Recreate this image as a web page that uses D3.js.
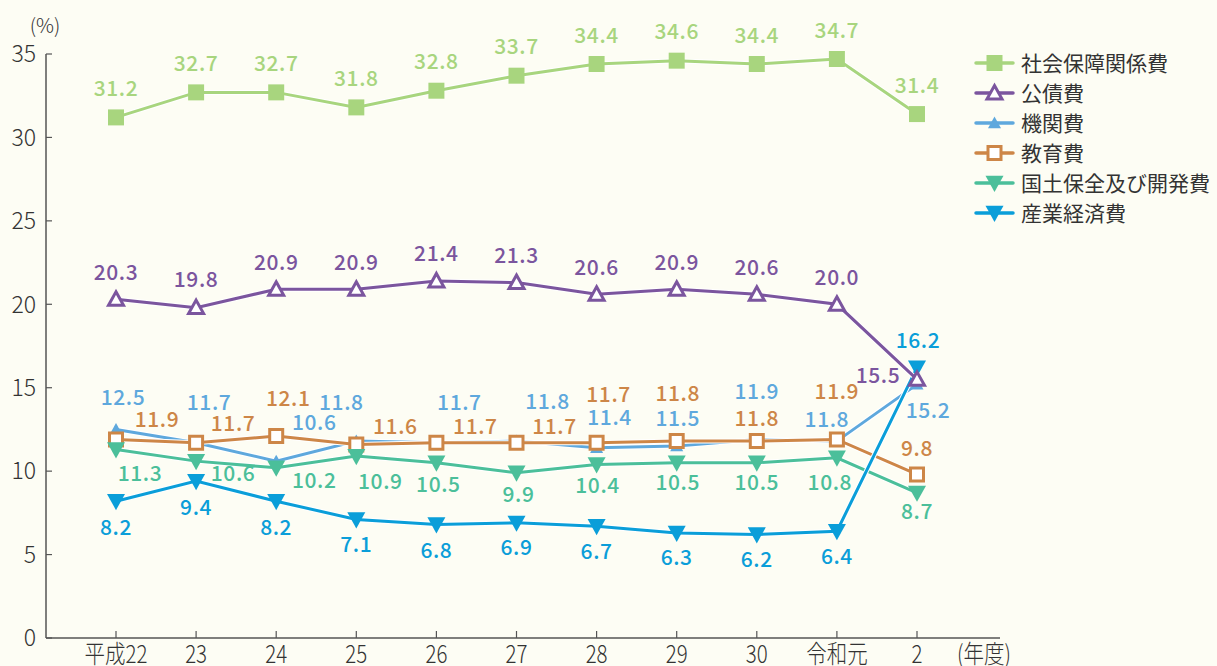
<!DOCTYPE html>
<html>
<head>
<meta charset="utf-8">
<script src="https://cdn.jsdelivr.net/npm/d3@7"></script>
<style>
  html, body { margin: 0; padding: 0; background: #fdfdf4; }
  svg { display: block; }
  text { font-family: "Noto Sans CJK JP", "Noto Sans", sans-serif; }
</style>
</head>
<body>
<svg id="chart" width="1217" height="666"></svg>
<script>
// DATA -----------------------------------------------------------------------------------------
var years = ["平成22", "23", "24", "25", "26", "27", "28", "29", "30", "令和元", "2"];
var yTicks = [0, 5, 10, 15, 20, 25, 30, 35];

var shakai  = [31.2, 32.7, 32.7, 31.8, 32.8, 33.7, 34.4, 34.6, 34.4, 34.7, 31.4]; // 社会保障関係費
var kousai  = [20.3, 19.8, 20.9, 20.9, 21.4, 21.3, 20.6, 20.9, 20.6, 20.0, 15.5]; // 公債費
var kikan   = [12.5, 11.7, 10.6, 11.8, 11.7, 11.8, 11.4, 11.5, 11.9, 11.8, 15.2]; // 機関費
var kyouiku = [11.9, 11.7, 12.1, 11.6, 11.7, 11.7, 11.7, 11.8, 11.8, 11.9, 9.8];  // 教育費
var kokudo  = [11.3, 10.6, 10.2, 10.9, 10.5, 9.9, 10.4, 10.5, 10.5, 10.8, 8.7];   // 国土保全及び開発費
var sangyou = [8.2, 9.4, 8.2, 7.1, 6.8, 6.9, 6.7, 6.3, 6.2, 6.4, 16.2];           // 産業経済費

// label placement (dx, dy from the point) -----------------------------------------------------
var shakaiLbl  = years.map(function() { return [0, -29]; });
var kousaiLbl  = [[0,-27],[0,-28],[0,-27],[0,-27],[0,-27],[0,-27],[0,-27],[0,-27],[0,-27],[0,-27],[-39,-4]];
var kikanLbl   = [[7,-32],[13,-40],[38,-39],[-15,-39],[23,-40],[31,-40],[13,-30],[1,-28],[0,-48],[-10,-22],[11,26]];
var kyouikuLbl = [[41,-20],[37,-19],[12,-38],[39,-18],[39,-16],[38,-16],[12,-48],[1,-48],[0,-23],[0,-48],[0,-26]];
var kokudoLbl  = [[24,24],[37,12],[38,13],[24,25],[2,22],[2,22],[1,21],[1,20],[0,20],[-7,25],[0,19]];
var sangyouLbl = [[0,26],[0,26],[0,26],[0,25],[0,26],[0,25],[0,25],[0,25],[0,25],[0,25],[1,-27]];

// SETUP ----------------------------------------------------------------------------------------
var svg = d3.select("#chart");

var x = d3.scalePoint().domain(years).range([116, 917]);
var y = d3.scaleLinear().domain([0, 35]).range([638, 54]);

// series, in drawing order (bottom to top)
var series = [
  { name: "機関費",           values: kikan,   lbl: kikanLbl,   color: "#5ea8dd", shape: "triUp",   open: false, size: 13 },
  { name: "教育費",           values: kyouiku, lbl: kyouikuLbl, color: "#cd8647", shape: "square",  open: true,  size: 16 },
  { name: "国土保全及び開発費", values: kokudo,  lbl: kokudoLbl,  color: "#4bbf9a", shape: "triDown", open: false, size: 18 },
  { name: "産業経済費",        values: sangyou, lbl: sangyouLbl, color: "#0a9ed9", shape: "triDown", open: false, size: 18 },
  { name: "公債費",           values: kousai,  lbl: kousaiLbl,  color: "#7b559e", shape: "triUp",   open: true,  size: 18 },
  { name: "社会保障関係費",     values: shakai,  lbl: shakaiLbl,  color: "#a8d57e", shape: "square",  open: false, size: 16 }
];
var legendOrder = ["社会保障関係費", "公債費", "機関費", "教育費", "国土保全及び開発費", "産業経済費"];

// marker path centred on 0,0
function markerPath(shape, s) {
  var h = s / 2;
  if (shape == "square") return "M" + (-h) + "," + (-h) + "H" + h + "V" + h + "H" + (-h) + "Z";
  if (shape == "triUp") return "M0," + (-h) + "L" + h + "," + (h * 0.8) + "L" + (-h) + "," + (h * 0.8) + "Z";
  return "M0," + h + "L" + h + "," + (-h * 0.8) + "L" + (-h) + "," + (-h * 0.8) + "Z";
}

function drawMarker(g, s, px, py) {
  var inset = s.open ? 3 : 0;
  g.append("path")
    .attr("transform", "translate(" + px + "," + py + ")")
    .attr("d", markerPath(s.shape, s.size - inset))
    .attr("fill", s.open ? "#fff" : s.color)
    .attr("stroke", s.color)
    .attr("stroke-width", s.open ? 3 : 0)
    .attr("stroke-linejoin", "miter");
}

// AXES -----------------------------------------------------------------------------------------
var axisColor = "#555";

svg.append("line")
  .attr("x1", 46).attr("x2", 46)
  .attr("y1", y(35)).attr("y2", y(0))
  .attr("stroke", axisColor).attr("stroke-width", 1.5);

svg.append("line")
  .attr("x1", 46).attr("x2", 1000)
  .attr("y1", y(0)).attr("y2", y(0))
  .attr("stroke", axisColor).attr("stroke-width", 1.5);

var yAxis = svg.append("g");
yTicks.forEach(function(t) {
  yAxis.append("line")
    .attr("x1", 46).attr("x2", 52)
    .attr("y1", y(t)).attr("y2", y(t))
    .attr("stroke", axisColor).attr("stroke-width", 1.2);
  yAxis.append("text")
    .attr("x", 36).attr("y", y(t))
    .attr("dy", "0.36em")
    .attr("text-anchor", "end")
    .attr("font-size", 23)
    .attr("font-weight", 300)
    .attr("fill", "#333")
    .text(t);
});

svg.append("text")
  .attr("x", 45).attr("y", 26)
  .attr("dy", "0.35em")
  .attr("text-anchor", "middle")
  .attr("font-size", 20)
  .attr("font-weight", 300)
  .attr("fill", "#333")
  .text("(%)");

// x labels: slightly condensed, as in the reference
function xLabel(g, cx, txt) {
  g.append("text")
    .attr("transform", "translate(" + cx + ",663) scale(0.82,1)")
    .attr("text-anchor", "middle")
    .attr("font-size", 25)
    .attr("font-weight", 300)
    .attr("fill", "#333")
    .text(txt);
}

var xAxis = svg.append("g");
years.forEach(function(yr) {
  xAxis.append("line")
    .attr("x1", x(yr)).attr("x2", x(yr))
    .attr("y1", y(0)).attr("y2", y(0) - 7)
    .attr("stroke", axisColor).attr("stroke-width", 1.2);
  xLabel(xAxis, x(yr), yr);
});
xLabel(xAxis, 984, "(年度)");

// LINES & MARKERS ------------------------------------------------------------------------------
var line = d3.line()
  .x(function(d, i) { return x(years[i]); })
  .y(function(d) { return y(d); });

series.forEach(function(s) {
  var g = svg.append("g");
  g.append("path")
    .attr("d", line(s.values))
    .attr("fill", "none")
    .attr("stroke", "#fff")
    .attr("stroke-width", 5);
  g.append("path")
    .attr("d", line(s.values))
    .attr("fill", "none")
    .attr("stroke", s.color)
    .attr("stroke-width", 3);
  s.values.forEach(function(v, i) {
    drawMarker(g, s, x(years[i]), y(v));
  });
});

// DATA LABELS ----------------------------------------------------------------------------------
series.forEach(function(s) {
  s.values.forEach(function(v, i) {
    svg.append("text")
      .attr("x", x(years[i]) + s.lbl[i][0])
      .attr("y", y(v) + s.lbl[i][1])
      .attr("dy", "0.36em")
      .attr("text-anchor", "middle")
      .attr("font-size", 21)
      .attr("font-weight", 500)
      .attr("letter-spacing", 0.6)
      .attr("fill", s.color)
      .text(v.toFixed(1));
  });
});

// LEGEND ---------------------------------------------------------------------------------------
var legend = svg.append("g");
legendOrder.forEach(function(name, i) {
  var s = series.filter(function(d) { return d.name == name; })[0];
  var ly = 63 + i * 30;
  legend.append("line")
    .attr("x1", 976).attr("x2", 1013)
    .attr("y1", ly).attr("y2", ly)
    .attr("stroke", s.color).attr("stroke-width", 3.5)
    .attr("stroke-linecap", "round");
  drawMarker(legend, s, 994.5, ly);
  legend.append("text")
    .attr("x", 1021).attr("y", ly)
    .attr("dy", "0.36em")
    .attr("font-size", 21)
    .attr("fill", "#333")
    .text(name);
});
</script>
</body>
</html>
